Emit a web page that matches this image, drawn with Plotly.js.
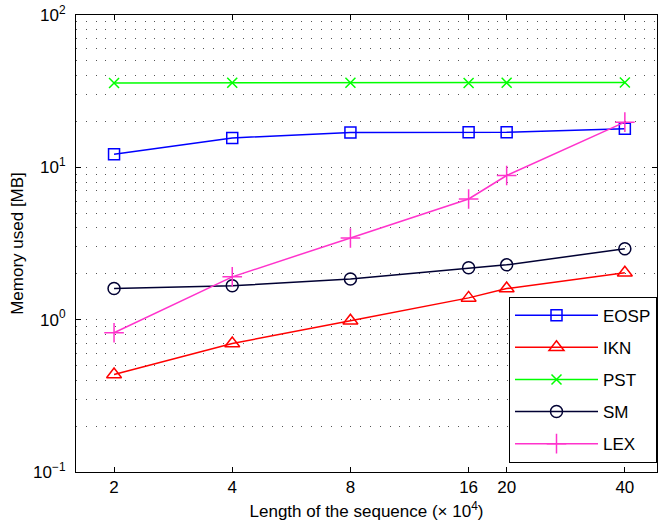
<!DOCTYPE html>
<html>
<head>
<meta charset="utf-8">
<script src="https://cdn.plot.ly/plotly-3.0.1.min.js"></script>
<style>html,body{margin:0;padding:0;background:#fff}#chart{width:659px;height:529px}</style>
</head>
<body>
<div id="chart"></div>
<script>
const seqLength = [2, 4, 8, 16, 20, 40];
const EOSP = [12.2, 15.6, 16.9, 17.0, 17.0, 17.9];
const IKN = [0.436, 0.697, 0.985, 1.39, 1.6, 2.03];
const PST = [35.8, 35.9, 35.9, 35.8, 35.9, 36.1];
const SM = [1.6, 1.67, 1.85, 2.19, 2.29, 2.92];
const LEX = [0.82, 1.91, 3.44, 6.2, 8.84, 19.8];
const xTickVals = [2, 4, 8, 16, 20, 40];
const xTickText = ['2', '4', '8', '16', '20', '40'];
const yTickVals = [0.1, 1, 10, 100];
const yTickText = ['10<sup>−1</sup>', '10<sup>0</sup>', '10<sup>1</sup>', '10<sup>2</sup>'];
const yMinorVals = [];
[0.1, 1, 10].forEach(d => { for (let k = 2; k <= 9; k++) yMinorVals.push(d * k); });

function tr(name, y, color, symbol, size) {
  return {
    x: seqLength, y: y, name: name, type: 'scatter', mode: 'lines+markers',
    line: {color: color, width: 1.5},
    marker: {symbol: symbol, size: size, color: color, line: {color: color, width: 1.5}},
    legendgroup: name
  };
}
const data = [
  tr('EOSP', EOSP, '#0000ff', 'square-open', 11),
  tr('IKN', IKN, '#ff0000', 'triangle-up-open', 13),
  tr('PST', PST, '#00ff00', 'x-thin-open', 10),
  tr('SM', SM, '#000033', 'circle-open', 12),
  tr('LEX', LEX, '#ff33cc', 'cross-thin-open', 14)
];
const gridDash = '1px,8.8px';
const layout = {
  width: 659, height: 529,
  margin: {l: 76, r: 2, t: 15, b: 56.5},
  paper_bgcolor: '#ffffff', plot_bgcolor: '#ffffff',
  font: {family: '"Liberation Sans", Arial, sans-serif', size: 17, color: '#000'},
  showlegend: true,
  legend: {
    x: 1, y: 0.3836, xanchor: 'right', yanchor: 'top',
    bgcolor: '#ffffff', bordercolor: '#000000', borderwidth: 1,
    font: {size: 17}, tracegroupgap: 7, itemwidth: 83
  },
  xaxis: {
    type: 'log', range: [Math.log10(1.6), Math.log10(48.3)],
    tickmode: 'array', tickvals: xTickVals, ticktext: xTickText,
    ticks: 'inside', ticklen: 5, tickcolor: '#000', tickwidth: 1,
    showline: true, linecolor: '#000', linewidth: 1, mirror: 'allticks',
    showgrid: false, zeroline: false,
    tickfont: {size: 17},
    title: {text: 'Length of the sequence (× 10<sup>4</sup>)', font: {size: 17}, standoff: 8}
  },
  yaxis: {
    type: 'log', range: [-1, 2],
    tickmode: 'array', tickvals: yTickVals, ticktext: yTickText,
    ticks: 'inside', ticklen: 5, tickcolor: '#000', tickwidth: 1,
    showline: true, linecolor: '#000', linewidth: 1, mirror: 'allticks',
    showgrid: true, gridcolor: '#555555', gridwidth: 1, griddash: gridDash,
    zeroline: false,
    tickfont: {size: 17}, ticklabelstandoff: 6,
    minor: {tickmode: 'array', tickvals: yMinorVals, showgrid: true, gridcolor: '#555555', gridwidth: 1, griddash: gridDash, ticks: ''},
    title: {text: 'Memory used [MB]', font: {size: 17}, standoff: 5}
  }
};
Plotly.newPlot('chart', data, layout, {displayModeBar: false, staticPlot: true});
</script>
</body>
</html>
